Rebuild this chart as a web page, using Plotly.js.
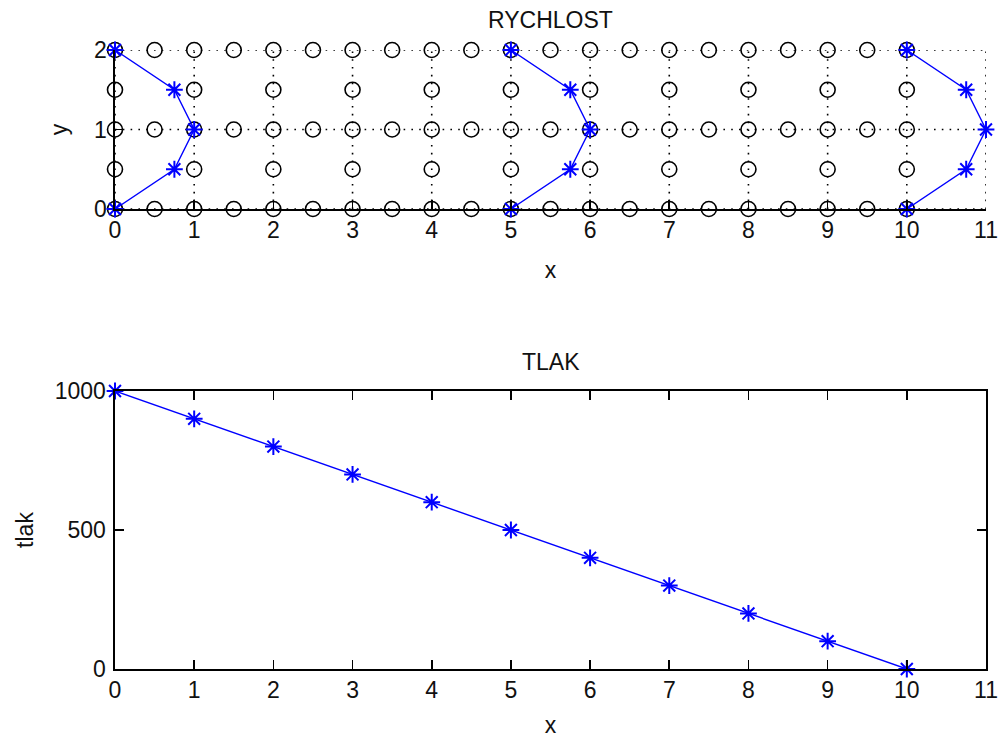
<!DOCTYPE html>
<html><head><meta charset="utf-8">
<script src="https://cdn.plot.ly/plotly-3.0.1.min.js"></script>
<style>html,body{margin:0;padding:0;background:#fff}#chart{width:998px;height:738px}</style>
</head><body><div id="chart"></div>
<script>
// ---- data ----
const circleXFine = [0,0.5,1,1.5,2,2.5,3,3.5,4,4.5,5,5.5,6,6.5,7,7.5,8,8.5,9,9.5,10];
const circleYFine = [0,1,2];
const circleXCoarse = [0,1,2,3,4,5,6,7,8,9,10];
const circleYCoarse = [0.5,1.5];
const meshX = [0,1,2,3,4,5,6,7,8,9,10,11];
const meshY = [0,1,2];
const profileY = [0,0.5,1,1.5,2];
const profileU = [0,0.75,1,0.75,0];
const profileStations = [0,5,10];
const pressureX = [0,1,2,3,4,5,6,7,8,9,10];
const pressure = [1000,900,800,700,600,500,400,300,200,100,0];
const xTicks = [0,1,2,3,4,5,6,7,8,9,10,11];
const yTicksTop = [0,1,2];
const yTicksBottom = [0,500,1000];

// ---- build traces ----
const FONT = {family:'"Liberation Sans", Arial, sans-serif', size:23, color:'#111'};
const BLUE = '#0000ff';
const traces = [];

// mesh dotted lines
const mx = [], my = [];
meshY.forEach(y => { mx.push(meshX[0], meshX[meshX.length-1], null); my.push(y, y, null); });
meshX.forEach(x => { mx.push(x, x, null); my.push(meshY[0], meshY[meshY.length-1], null); });
traces.push({x:mx, y:my, mode:'lines', line:{color:'#000', width:1.6, dash:'1.6px,6.2px'},
  xaxis:'x', yaxis:'y', hoverinfo:'skip', showlegend:false, cliponaxis:false});

// circles
const cx = [], cy = [];
circleYFine.forEach(y => circleXFine.forEach(x => { cx.push(x); cy.push(y); }));
circleYCoarse.forEach(y => circleXCoarse.forEach(x => { cx.push(x); cy.push(y); }));
traces.push({x:cx, y:cy, mode:'markers', marker:{symbol:'circle-open', size:15, color:'#000', line:{width:1.6, color:'#000'}},
  xaxis:'x', yaxis:'y', showlegend:false, cliponaxis:false});

// velocity profiles
profileStations.forEach(s => {
  traces.push({x:profileU.map(u => s + u), y:profileY, mode:'lines+markers',
    line:{color:BLUE, width:1.4}, marker:{symbol:'asterisk-open', size:14, color:BLUE, line:{width:2, color:BLUE}},
    xaxis:'x', yaxis:'y', showlegend:false, cliponaxis:false});
});

// pressure
traces.push({x:pressureX, y:pressure, mode:'lines+markers',
  line:{color:BLUE, width:1.4}, marker:{symbol:'asterisk-open', size:14, color:BLUE, line:{width:2, color:BLUE}},
  xaxis:'x2', yaxis:'y2', showlegend:false, cliponaxis:false});

const W = 998, H = 738;
const xDom = [115/W, 986/W];
const axBase = {showgrid:false, zeroline:false, showline:true, linecolor:'#000', linewidth:1.6,
  ticks:'inside', ticklen:9, tickwidth:1.6, tickcolor:'#000', tickfont:FONT, automargin:false, fixedrange:true};

const layout = {
  width:W, height:H, margin:{l:0, r:0, t:0, b:0},
  paper_bgcolor:'#fff', plot_bgcolor:'#fff', font:FONT, showlegend:false,
  xaxis: Object.assign({}, axBase, {domain:xDom, range:[0,11], tickvals:xTicks, anchor:'y', mirror:false,
    title:{text:'x', font:FONT, standoff:19}}),
  yaxis: Object.assign({}, axBase, {domain:[1-209/H, 1-50/H], range:[0,2], tickvals:yTicksTop, anchor:'x', mirror:false,
    ticklabelstandoff:2, title:{text:'y', font:FONT, standoff:20}}),
  xaxis2: Object.assign({}, axBase, {domain:xDom, range:[0,11], tickvals:xTicks, anchor:'y2', mirror:'ticks',
    title:{text:'x', font:FONT, standoff:20}}),
  yaxis2: Object.assign({}, axBase, {domain:[1-669/H, 1-391/H], range:[0,1000], tickvals:yTicksBottom, anchor:'x2', mirror:'ticks',
    ticklabelstandoff:3, title:{text:'tlak', font:FONT, standoff:14}}),
  annotations:[
    {text:'RYCHLOST', xref:'paper', yref:'paper', x:550.5/W, y:1-20/H, xanchor:'center', yanchor:'middle', showarrow:false, font:FONT},
    {text:'TLAK', xref:'paper', yref:'paper', x:550.5/W, y:1-362/H, xanchor:'center', yanchor:'middle', showarrow:false, font:FONT}
  ]
};

Plotly.newPlot('chart', traces, layout, {displayModeBar:false, staticPlot:true});
</script>
</body></html>
